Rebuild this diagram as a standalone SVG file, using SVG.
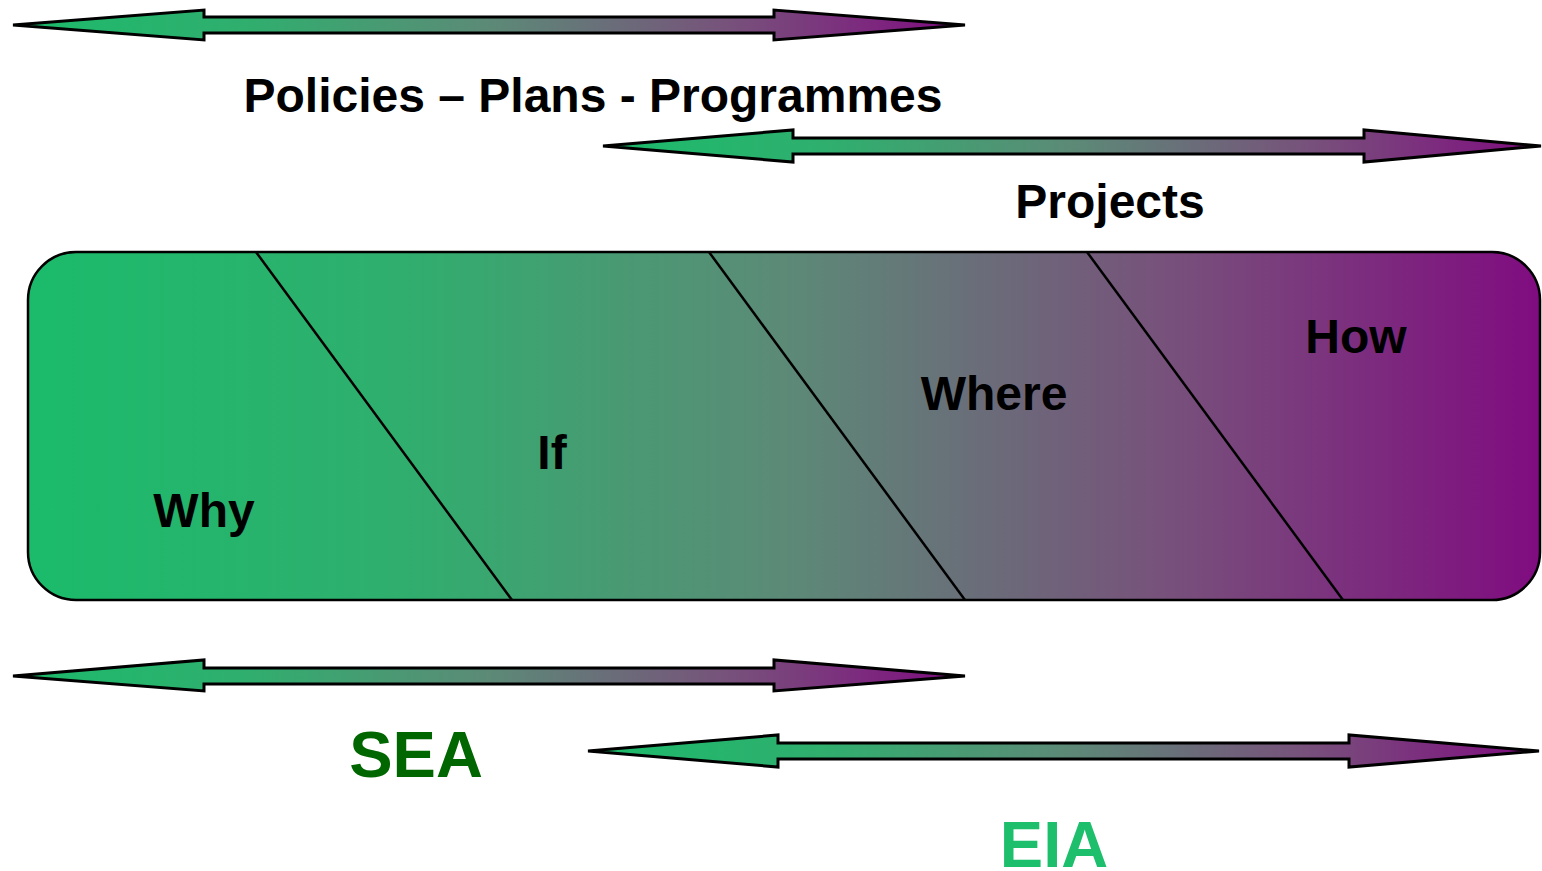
<svg xmlns="http://www.w3.org/2000/svg" width="1542" height="871" viewBox="0 0 1542 871">
<defs>
<linearGradient id="gBox" x1="0" y1="0" x2="1" y2="0">
<stop offset="0" stop-color="#1bbb6b"/>
<stop offset="0.25" stop-color="#30ae6e"/>
<stop offset="0.5" stop-color="#5c8a77"/>
<stop offset="0.75" stop-color="#77527b"/>
<stop offset="1" stop-color="#800c80"/>
</linearGradient>
<linearGradient id="gArr" x1="0" y1="0" x2="1" y2="0">
<stop offset="0" stop-color="#1bbb6b"/>
<stop offset="0.25" stop-color="#30ae6e"/>
<stop offset="0.5" stop-color="#5c8a77"/>
<stop offset="0.75" stop-color="#77527b"/>
<stop offset="1" stop-color="#800c80"/>
</linearGradient>
<style>
.arr{fill:url(#gArr);stroke:#000;stroke-width:3;stroke-linejoin:miter}
.lbl{font-family:"Liberation Sans",Arial,sans-serif;font-weight:bold;fill:#000}
.div{stroke:#000;stroke-width:2.5;fill:none}
</style>
</defs>
<g id="connectors">
<polygon class="arr" points="13,25 204,10 204,17 774,17 774,10 965,25 774,40 774,33 204,33 204,40"/>
<polygon class="arr" points="603,146 793,130 793,138 1364,138 1364,130 1541,146 1364,162 1364,154 793,154 793,162"/>
<polygon class="arr" points="13,676 204,660 204,668 774,668 774,660 965,676 774,691 774,684 204,684 204,691"/>
<polygon class="arr" points="588,751 778,735 778,743 1349,743 1349,735 1539,751 1349,767 1349,759 778,759 778,767"/>
</g>
<g id="box">
<rect x="28" y="252" width="1512" height="348" rx="48" ry="48" fill="url(#gBox)" stroke="#000" stroke-width="2.5"/>
<line class="div" x1="256" y1="252" x2="512" y2="600"/>
<line class="div" x1="709" y1="252" x2="965" y2="600"/>
<line class="div" x1="1087" y1="252" x2="1343" y2="600"/>
</g>
<g id="labels">
<text class="lbl" x="593" y="112" font-size="48" text-anchor="middle">Policies – Plans - Programmes</text>
<text class="lbl" x="1110" y="218" font-size="48" text-anchor="middle">Projects</text>
<text class="lbl" x="204" y="527" font-size="48" text-anchor="middle">Why</text>
<text class="lbl" x="552" y="469" font-size="48" text-anchor="middle">If</text>
<text class="lbl" x="994" y="410" font-size="48" text-anchor="middle">Where</text>
<text class="lbl" x="1356" y="353" font-size="48" text-anchor="middle">How</text>
<text class="lbl" x="416" y="777" font-size="65" text-anchor="middle" style="fill:#006600">SEA</text>
<text class="lbl" x="1054" y="867" font-size="65" text-anchor="middle" style="fill:#1dbf6c">EIA</text>
</g>
</svg>
